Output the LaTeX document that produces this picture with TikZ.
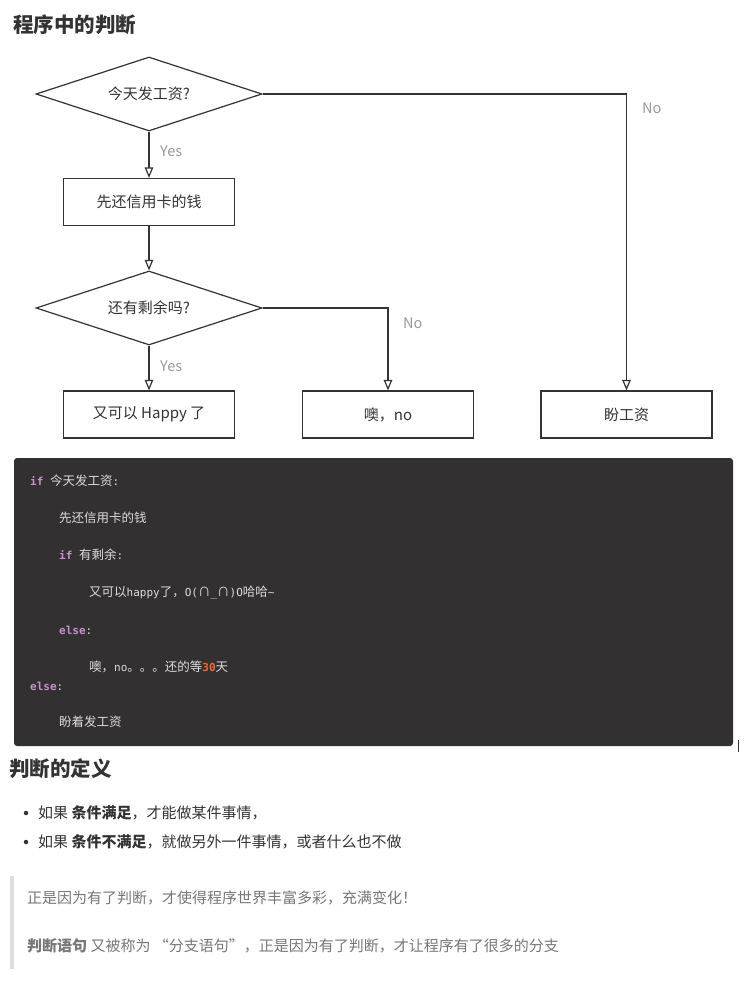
\documentclass[tikz,border=0pt]{standalone}
\usepackage{fontspec}
\setmainfont{Noto Sans CJK SC}
\newfontfamily\cjk{Noto Sans CJK SC}
\newfontfamily\cmono{DejaVu Sans Mono}
\usetikzlibrary{shapes.geometric,arrows.meta}
\definecolor{ink}{HTML}{333333}
\definecolor{lbl}{HTML}{999999}
\definecolor{codebg}{HTML}{323031}
\definecolor{codefg}{HTML}{DCDCDC}
\definecolor{kwc}{HTML}{C98FCF}
\definecolor{numc}{HTML}{F26B2E}
\definecolor{quote}{HTML}{777777}
\definecolor{qbar}{HTML}{DDDDDD}
\newcommand{\kw}[1]{{\cmono\fontsize{11}{13}\selectfont\bfseries\color{kwc}#1}}
\newcommand{\mn}[1]{{\cmono\fontsize{11}{13}\selectfont #1}}
\newcommand{\msp}{{\cmono\fontsize{11}{13}\selectfont\ }}
\tikzset{
  dec/.style={diamond, draw=ink, line width=1.2pt, shape aspect=3, inner sep=0pt,
    minimum width=226pt, minimum height=74pt, font=\fontsize{15}{17}\selectfont, text=ink},
  act/.style={rectangle, draw=ink, line width=1.2pt, minimum width=171pt, minimum height=47pt,
    font=\fontsize{15}{17}\selectfont, text=ink},
  flow/.style={draw=ink, line width=1.2pt, -{Triangle[open, width=8.5pt, length=10.5pt]}},
  lab/.style={anchor=west, text=lbl, font=\fontsize{14.5}{16}\selectfont, inner sep=0pt},
  code/.style={anchor=west, text=codefg, font=\cjk\fontsize{12.5}{14}\selectfont, inner sep=0pt},
  head/.style={anchor=west, text=ink, font=\fontsize{20.5}{22}\selectfont\bfseries, inner sep=0pt},
  body/.style={anchor=west, text=ink, font=\fontsize{15}{17}\selectfont, inner sep=0pt},
  qtext/.style={anchor=west, text=quote, font=\fontsize{15}{17}\selectfont, inner sep=0pt},
}
\begin{document}
\begin{tikzpicture}[x=1pt, y=-1pt]
\useasboundingbox[fill=white] (0,0) rectangle (753,984);

% title
\node[head] (title) at (13,25) {程序中的判断};

% flowchart
\node[dec] (d1) at (149,94) {今天发工资?};
\node[act] (b1) at (149,202) {先还信用卡的钱};
\node[dec] (d2) at (149,308) {还有剩余吗?};
\node[act] (happy) at (149,414.5) {又可以 Happy 了};
\node[act] (oh) at (388,414.5) {噢，no};
\node[act] (pan) at (626.5,414.5) {盼工资};

\draw[flow] (d1.south) -- (b1.north);
\draw[flow] (b1.south) -- (d2.north);
\draw[flow] (d2.south) -- (happy.north);
\draw[flow] (d2.east) -| (oh.north);
\draw[flow] (d1.east) -| (pan.north);

\node[lab] (y1) at (160,151) {Yes};
\node[lab] (y2) at (160,366) {Yes};
\node[lab] (n1) at (642,108) {No};
\node[lab] (n2) at (403,323) {No};

% code block
\node[draw=none, fill=codebg, rounded corners=3pt, minimum width=719pt, minimum height=288pt, inner sep=0pt] (cb) at (373.5,602) {};
\draw[ink, line width=0.8pt] (738,740) coordinate (cur1) -- (738,752) coordinate (cur2);

\node[code] (c1) at (30,481) {\kw{if}\msp 今天发工资\mn{:}};
\node[code] (c2) at (59,518) {先还信用卡的钱};
\node[code] (c3) at (59,555) {\kw{if}\msp 有剩余\mn{:}};
\node[code] (c4) at (89,593) {又可以\mn{happy}了，\mn{O(}∩\mn{\_}∩\mn{)O}哈哈\mn{\textasciitilde}};
\node[code] (c5) at (59,630) {\kw{else}\mn{:}};
\node[code] (c6) at (89,667) {噢，\mn{no}。。。还的等{\cmono\fontsize{11}{13}\selectfont\bfseries\color{numc}30}天};
\node[code] (c7) at (30,686) {\kw{else}\mn{:}};
\node[code] (c8) at (59,722) {盼着发工资};

% definition
\node[head] (title2) at (9,769) {判断的定义};
\node[circle, fill=ink, inner sep=0pt, minimum size=4.5pt] (bul1) at (26,813) {};
\node[circle, fill=ink, inner sep=0pt, minimum size=4.5pt] (bul2) at (26,842) {};
\node[body] (t1) at (38,813) {如果 \textbf{条件满足}，才能做某件事情，};
\node[body] (t2) at (38,842) {如果 \textbf{条件不满足}，就做另外一件事情，或者什么也不做};

% blockquote
\node[fill=qbar, inner sep=0pt, minimum width=4pt, minimum height=93pt] (qb) at (12,922.5) {};
\node[qtext] (q1) at (27,898) {正是因为有了判断，才使得程序世界丰富多彩，充满变化！};
\node[qtext] (q2) at (27,946) {\textbf{判断语句} 又被称为 “分支语句”，正是因为有了判断，才让程序有了很多的分支};
\end{tikzpicture}
\end{document}
